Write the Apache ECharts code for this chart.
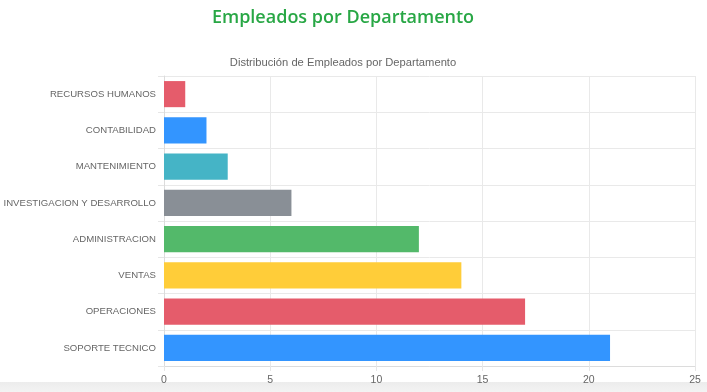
<!DOCTYPE html>
<html><head><meta charset="utf-8">
<script src="https://cdn.jsdelivr.net/npm/echarts@6/dist/echarts.min.js"></script>
<style>
html,body{margin:0;padding:0;background:#fff;overflow:hidden;}
#band{position:absolute;left:0;top:382px;width:707px;height:10px;background:linear-gradient(#ececec,#f3f3f3);}
#c{position:absolute;left:0;top:0;width:707px;height:392px;}
</style></head>
<body>
<div id="band"></div>
<div id="c"></div>
<script>
const categories = ["RECURSOS HUMANOS","CONTABILIDAD","MANTENIMIENTO","INVESTIGACION Y DESARROLLO","ADMINISTRACION","VENTAS","OPERACIONES","SOPORTE TECNICO"];
const empleados = [1,2,3,6,12,14,17,21];
const barColors = ["#e55c6b","#3395ff","#45b4c6","#898f96","#53b96a","#ffcd39","#e55c6b","#3395ff"];
const xTicks = [0,5,10,15,20,25];

const chart = echarts.init(document.getElementById('c'), null, {renderer:'canvas'});
chart.setOption({
  animation:false,
  title:[
    {text:'Empleados por Departamento', left:338, top:4, textAlign:'center',
     textStyle:{color:'#28a745', fontSize:18, fontWeight:'600', fontFamily:'Open Sans'}},
    {text:'Distribución de Empleados por Departamento', left:338, top:52, textAlign:'center',
     textStyle:{color:'#666', fontSize:11.2, fontWeight:'normal', fontFamily:'Liberation Sans'}}
  ],
  grid:{left:164, right:12, top:76, bottom:26, containLabel:false, outerBoundsMode:'none'},
  xAxis:{type:'value', min:xTicks[0], max:xTicks[xTicks.length-1], interval:5,
    axisLine:{show:true, lineStyle:{color:'#dcdcdc'}},
    axisTick:{show:true, length:5, lineStyle:{color:'#e6e6e6'}},
    axisLabel:{color:'#666', fontSize:10.5, fontFamily:'Liberation Sans', margin:9},
    splitLine:{show:true, lineStyle:{color:'#e9e9e9'}}},
  yAxis:{type:'category', data:categories, inverse:true,
    axisLine:{show:true, lineStyle:{color:'#dcdcdc'}},
    axisTick:{show:true, length:6, lineStyle:{color:'#e6e6e6'}},
    axisLabel:{color:'#666', fontSize:9.6, fontFamily:'Liberation Sans', margin:8},
    splitLine:{show:true, lineStyle:{color:'#e9e9e9'}}},
  series:[{type:'bar', barWidth:'72%',
    data:empleados.map((v,i)=>({value:v, itemStyle:{color:barColors[i]}}))}]
});
</script>
</body></html>
